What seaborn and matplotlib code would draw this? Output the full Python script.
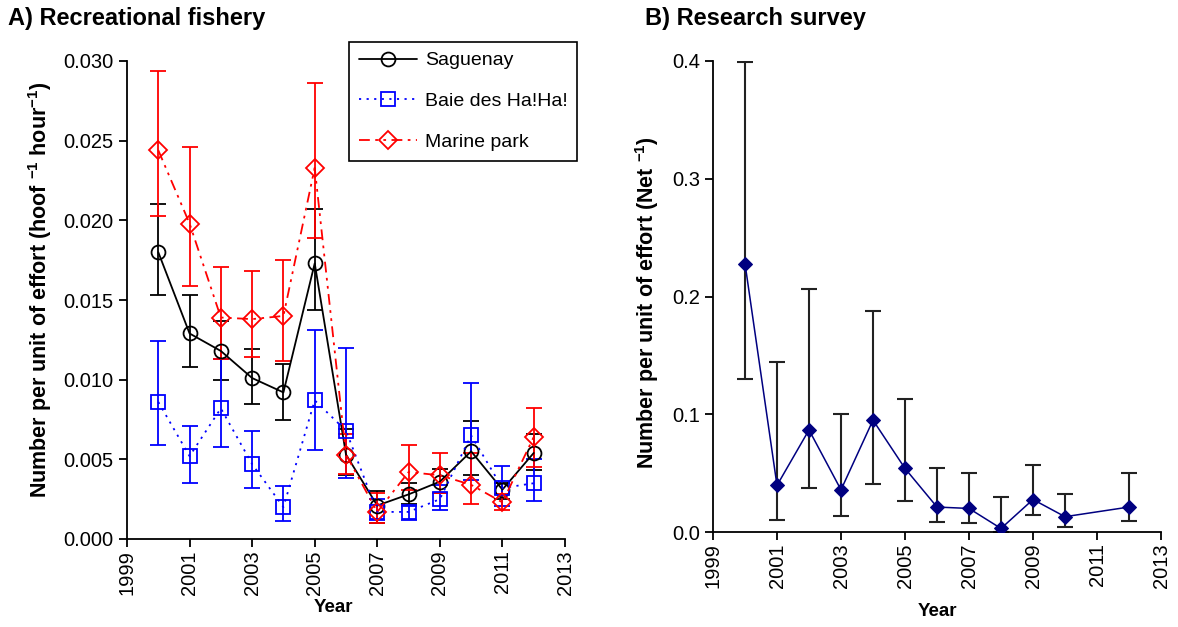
import numpy as np
import pandas as pd
import matplotlib
matplotlib.use("Agg")
import matplotlib.pyplot as plt
import seaborn as sns

# ---- data: recreational fishery CPUE (value, upper bound, lower bound) ----
years = [2000, 2001, 2002, 2003, 2004, 2005, 2006, 2007, 2008, 2009, 2010, 2011, 2012]

saguenay = [0.0180, 0.0129, 0.0118, 0.0101, 0.0092, 0.0173, 0.0053, 0.0021, 0.0028, 0.0036, 0.0055, 0.0031, 0.0054]
saguenay_hi = [0.0210, 0.0153, 0.0137, 0.0119, 0.0110, 0.0207, 0.0069, 0.0030, 0.0035, 0.0044, 0.0074, 0.0035, 0.0066]
saguenay_lo = [0.0153, 0.0108, 0.0100, 0.0085, 0.0075, 0.0144, 0.0040, 0.0010, 0.0022, 0.0029, 0.0040, 0.0025, 0.0043]

baie = [0.0086, 0.0052, 0.0082, 0.0047, 0.0020, 0.0087, 0.0068, 0.0017, 0.0017, 0.0025, 0.0065, 0.0032, 0.0035]
baie_hi = [0.0124, 0.0071, 0.0113, 0.0068, 0.0033, 0.0131, 0.0120, 0.0025, 0.0021, 0.0034, 0.0098, 0.0046, 0.0050]
baie_lo = [0.0059, 0.0035, 0.0058, 0.0032, 0.0011, 0.0056, 0.0038, 0.0012, 0.0012, 0.0018, 0.0037, 0.0021, 0.0024]

marine = [0.0244, 0.0198, 0.0139, 0.0138, 0.0140, 0.0233, 0.0053, 0.0017, 0.0042, 0.0040, 0.0034, 0.0023, 0.0064]
marine_hi = [0.0294, 0.0246, 0.0171, 0.0168, 0.0175, 0.0286, 0.0066, 0.0029, 0.0059, 0.0054, 0.0054, 0.0028, 0.0082]
marine_lo = [0.0203, 0.0159, 0.0113, 0.0114, 0.0112, 0.0189, 0.0041, 0.0010, 0.0031, 0.0029, 0.0022, 0.0018, 0.0045]

series_names = ["Saguenay", "Baie des Ha!Ha!", "Marine park"]

# ---- data: research survey CPUE (no survey in 2011) ----
survey_years = [2000, 2001, 2002, 2003, 2004, 2005, 2006, 2007, 2008, 2009, 2010, 2012]
survey = [0.228, 0.0396, 0.0867, 0.0358, 0.095, 0.054, 0.0212, 0.020, 0.003, 0.0276, 0.013, 0.0212]
survey_hi = [0.399, 0.144, 0.2064, 0.100, 0.1878, 0.113, 0.054, 0.0503, 0.0297, 0.0565, 0.0325, 0.0503]
survey_lo = [0.130, 0.0104, 0.0373, 0.0132, 0.0407, 0.026, 0.0081, 0.008, 0.0, 0.0141, 0.0045, 0.0093]

xticks = list(range(1999, 2014, 2))

sns.set_theme(style="ticks")
plt.rcParams["font.family"] = ["Liberation Sans", "DejaVu Sans"]
plt.rcParams["mathtext.fontset"] = "custom"
plt.rcParams["mathtext.rm"] = "Liberation Sans:bold"
plt.rcParams["mathtext.bf"] = "Liberation Sans:bold"
plt.rcParams["mathtext.default"] = "bf"
for key in ("text.color", "axes.labelcolor", "xtick.color", "ytick.color",
            "xtick.labelcolor", "ytick.labelcolor"):
    plt.rcParams[key] = "black"

fig = plt.figure(figsize=(11.78, 6.27), dpi=100)
axA = fig.add_axes([127 / 1178, 88 / 627, 438 / 1178, 478 / 627])
axB = fig.add_axes([713 / 1178, 95 / 627, 448 / 1178, 471 / 627])

TICK_FS = 14.5
YLABEL_FS = 15.5
XLABEL_FS = 13.5

def style_axes(ax):
    sns.despine(ax=ax)
    for side in ("left", "bottom"):
        ax.spines[side].set_linewidth(1.3)
        ax.spines[side].set_color("black")
    ax.tick_params(axis="both", direction="out", length=6, width=1.3,
                   color="black", labelsize=TICK_FS, labelcolor="black")
    ax.tick_params(axis="x", pad=2)
    ax.set_xticks(xticks)
    ax.set_xticklabels([str(t) for t in xticks], rotation=90)
    ax.set_xlim(1999, 2013)
    ax.grid(False)
    ax.set_xlabel("")
    ax.set_ylabel("")

# ---- panel A ----
specs = [
    (saguenay, saguenay_hi, saguenay_lo, "black", "-", "o", 10),
    (baie, baie_hi, baie_lo, "#0000FF", (0, (1.2, 3)), "s", 9.5),
    (marine, marine_hi, marine_lo, "#FF0000", (0, (6, 3, 1.5, 3, 1.5, 3)), "D", 9.5),
]
for name, (vals, hi, lo, col, ls, mk, ms) in zip(series_names, specs):
    v = np.array(vals)
    err = [v - np.array(lo), np.array(hi) - v]
    axA.errorbar(years, vals, yerr=err, fmt="none", ecolor=col,
                 elinewidth=1.3, capsize=6, capthick=1.3, zorder=2)
    df = pd.DataFrame({"Year": years, "value": vals})
    sns.lineplot(data=df, x="Year", y="value", ax=axA, color=col,
                 linestyle=ls, linewidth=1.3, marker=mk, markersize=ms,
                 markerfacecolor="none", markeredgecolor=col,
                 markeredgewidth=1.3, label=name, zorder=3)

axA.set_ylim(0, 0.030)
axA.set_yticks(np.arange(0, 0.0301, 0.005))
axA.set_yticklabels([f"{t:.3f}" for t in np.arange(0, 0.0301, 0.005)])
style_axes(axA)
leg = axA.legend(loc="upper left", bbox_to_anchor=(349 / 1178, 1 - 42 / 627),
                 bbox_transform=fig.transFigure, borderaxespad=0,
                 fontsize=14, frameon=True, fancybox=False, handlelength=3.0,
                 labelspacing=1.2, borderpad=0.5, handletextpad=0.4)
leg.get_frame().set_edgecolor("black")
leg.get_frame().set_linewidth(1.2)
leg.get_frame().set_alpha(1)

# ---- panel B ----
sv = np.array(survey)
axB.errorbar(survey_years, survey,
             yerr=[sv - np.array(survey_lo), np.array(survey_hi) - sv],
             fmt="none", ecolor="#222222", elinewidth=1.5, capsize=6,
             capthick=1.5, zorder=2)
dfB = pd.DataFrame({"Year": survey_years, "value": survey})
sns.lineplot(data=dfB, x="Year", y="value", ax=axB, color="#000080",
             linewidth=1.1, marker="D", markersize=7, markeredgecolor="#000080",
             markerfacecolor="#000080", zorder=3)
axB.set_ylim(0, 0.4)
axB.set_yticks(np.arange(0, 0.41, 0.1))
axB.set_yticklabels([f"{t:.1f}" for t in np.arange(0, 0.41, 0.1)])
style_axes(axB)

# ---- titles and axis labels ----
fig.text(8 / 1178, 1 - 18 / 627, "A) Recreational fishery", fontsize=17,
         fontweight="bold", ha="left", va="center")
fig.text(645 / 1178, 1 - 18 / 627, "B) Research survey", fontsize=17,
         fontweight="bold", ha="left", va="center")
fig.text(40 / 1178, 1 - 290 / 627,
         r"Number per unit of effort (hoof $^{-1}$ hour$^{-1}$)",
         rotation=90, fontsize=YLABEL_FS, fontweight="bold",
         ha="center", va="center")
fig.text(647 / 1178, 1 - 303 / 627,
         r"Number per unit of effort (Net $^{-1}$)",
         rotation=90, fontsize=YLABEL_FS, fontweight="bold",
         ha="center", va="center")
fig.text(333 / 1178, 1 - 608 / 627, "Year", fontsize=XLABEL_FS,
         fontweight="bold", ha="center", va="center")
fig.text(937 / 1178, 1 - 612 / 627, "Year", fontsize=XLABEL_FS,
         fontweight="bold", ha="center", va="center")

fig.savefig("out.png", dpi=100, facecolor="white")
